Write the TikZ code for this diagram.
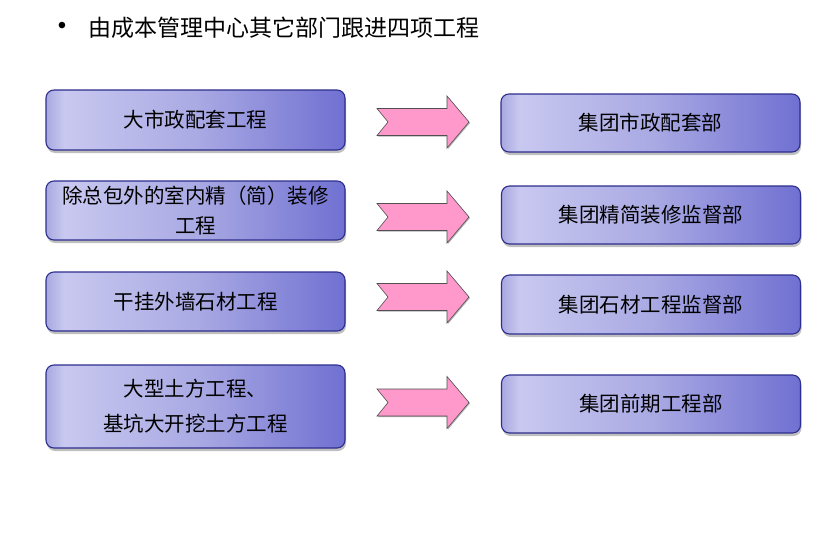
\documentclass[tikz,border=0pt]{standalone}
\usepackage{fontspec}
\setmainfont{Noto Sans CJK SC}
\newfontfamily\bulletfont{Liberation Sans}
\usetikzlibrary{shadows}
\definecolor{boxline}{HTML}{2E2E8E}
\definecolor{boxedge}{HTML}{A8A8E0}
\definecolor{boxlight}{HTML}{C8C8F0}
\definecolor{boxmid}{HTML}{AAAAE4}
\definecolor{boxdark}{HTML}{7070D2}
\definecolor{arrowfill}{HTML}{FF99CC}
\definecolor{arrowline}{HTML}{505050}
\pgfdeclarehorizontalshading{boxshade}{100bp}{color(0bp)=(boxedge); color(25bp)=(boxedge); color(28bp)=(boxlight); color(50bp)=(boxmid); color(75bp)=(boxdark); color(100bp)=(boxdark)}
\tikzset{
  deptbox/.style={draw=boxline, line width=1.1pt, rounded corners=8pt,
    shading=boxshade, minimum width=299pt, inner sep=0pt,
    align=center, text=black,
    font=\fontsize{20.5}{30}\selectfont,
    drop shadow={shadow xshift=1pt, shadow yshift=-3pt, opacity=0.25, fill=black}},
  blockarrow/.pic={
    \draw[fill=black, opacity=0.3, draw=none]
      (-45,-12.5) -- (25,-12.5) -- (25,-25) -- (47,1) -- (25,27) -- (25,14.5) -- (-45,14.5) -- (-34,1) -- cycle;
    \draw[fill=arrowfill, draw=arrowline, line width=0.6pt, line join=miter]
      (-46,-13.5) -- (24,-13.5) -- (24,-26) -- (46,0) -- (24,26) -- (24,13.5) -- (-46,13.5) -- (-35,0) -- cycle;
  }
}
\begin{document}
\begin{tikzpicture}[x=1pt,y=-1pt]
\useasboundingbox[fill=white] (0,0) rectangle (822,543);
% title
\node[font=\bulletfont\fontsize{24}{28}\selectfont, inner sep=0pt] (bullet) at (62,28) {•};
\node[anchor=west, inner sep=0pt, font=\fontsize{23}{28}\selectfont] (title) at (88,28) {由成本管理中心其它部门跟进四项工程};
% left boxes
\node[deptbox, minimum height=60pt] (l1) at (195.5,120) {大市政配套工程};
\node[deptbox, minimum height=59pt] (l2) at (195.5,210.5) {除总包外的室内精（简）装修\\工程};
\node[deptbox, minimum height=59pt] (l3) at (195.5,301.5) {干挂外墙石材工程};
\node[deptbox, minimum height=83pt, font=\fontsize{20.5}{35}\selectfont] (l4) at (195.5,406.5) {大型土方工程、\\基坑大开挖土方工程};
% right boxes
\node[deptbox, minimum height=58pt] (r1) at (650.5,123) {集团市政配套部};
\node[deptbox, minimum height=58pt] (r2) at (651,215) {集团精简装修监督部};
\node[deptbox, minimum height=59pt] (r3) at (651,304.5) {集团石材工程监督部};
\node[deptbox, minimum height=58pt] (r4) at (651,404) {集团前期工程部};
% arrows
\pic at (423,122) {blockarrow};
\pic at (423,217) {blockarrow};
\pic at (423,297) {blockarrow};
\pic at (423,402.5) {blockarrow};
\end{tikzpicture}
\end{document}
